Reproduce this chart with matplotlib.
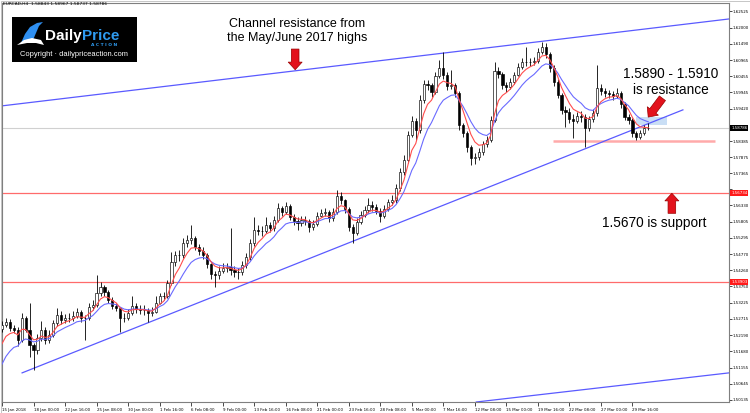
import matplotlib
matplotlib.use("Agg")
import matplotlib.pyplot as plt
import numpy as np
import pandas as pd
from matplotlib.patches import Rectangle, Polygon

# ---------------- data (EURCAD, bars) ----------------
first_open = 1.5240
closes = [1.5252, 1.5262, 1.5242, 1.5236, 1.5204, 1.5274, 1.5236, 1.5188, 1.5172, 1.5210,
          1.5236, 1.5204, 1.5220, 1.5258, 1.5284, 1.5268, 1.5274, 1.5274, 1.5281, 1.5294,
          1.5274, 1.5274, 1.5310, 1.5316, 1.5353, 1.5373, 1.5357, 1.5332, 1.5313, 1.5306,
          1.5274, 1.5274, 1.5290, 1.5313, 1.5303, 1.5300, 1.5300, 1.5290, 1.5294, 1.5322,
          1.5345, 1.5345, 1.5385, 1.5453, 1.5475, 1.5475, 1.5513, 1.5523, 1.5529, 1.5501,
          1.5488, 1.5475, 1.5446, 1.5414, 1.5411, 1.5424, 1.5433, 1.5437, 1.5427, 1.5421,
          1.5421, 1.5443, 1.5469, 1.5513, 1.5555, 1.5552, 1.5552, 1.5571, 1.5561, 1.5587,
          1.5625, 1.5613, 1.5632, 1.5597, 1.5584, 1.5577, 1.5587, 1.5584, 1.5565, 1.5574,
          1.5600, 1.5609, 1.5613, 1.5593, 1.5613, 1.5664, 1.5651, 1.5622, 1.5565, 1.5546,
          1.5581, 1.5603, 1.5619, 1.5635, 1.5629, 1.5616, 1.5600, 1.5622, 1.5645, 1.5651,
          1.5689, 1.5740, 1.5778, 1.5858, 1.5903, 1.5874, 1.5970, 1.6021, 1.6017, 1.5995,
          1.6046, 1.6072, 1.6049, 1.6014, 1.6017, 1.5992, 1.5890, 1.5864, 1.5820, 1.5785,
          1.5788, 1.5804, 1.5829, 1.5842, 1.5906, 1.6062, 1.6053, 1.6017, 1.6011, 1.6027,
          1.6049, 1.6075, 1.6091, 1.6091, 1.6091, 1.6094, 1.6123, 1.6139, 1.6116, 1.6072,
          1.6027, 1.5986, 1.5938, 1.5931, 1.5909, 1.5903, 1.5919, 1.5915, 1.5880, 1.5909,
          1.5928, 1.6008, 1.5998, 1.5992, 1.5989, 1.5982, 1.5992, 1.5957, 1.5915, 1.5906,
          1.5864, 1.5852, 1.5864, 1.5880, 1.5879]
highs = [1.5265, 1.5275, 1.5270, 1.5252, 1.5245, 1.5290, 1.5282, 1.5322, 1.5195, 1.5222,
         1.5265, 1.5245, 1.5235, 1.5268, 1.5306, 1.5295, 1.5288, 1.5290, 1.5295, 1.5306,
         1.5300, 1.5285, 1.5322, 1.5330, 1.5411, 1.5390, 1.5380, 1.5362, 1.5340, 1.5322,
         1.5310, 1.5290, 1.5302, 1.5345, 1.5322, 1.5315, 1.5316, 1.5306, 1.5308, 1.5345,
         1.5355, 1.5358, 1.5395, 1.5485, 1.5488, 1.5490, 1.5530, 1.5540, 1.5571, 1.5535,
         1.5510, 1.5500, 1.5480, 1.5450, 1.5425, 1.5440, 1.5450, 1.5450, 1.5561, 1.5440,
         1.5435, 1.5455, 1.5480, 1.5525, 1.5597, 1.5570, 1.5568, 1.5597, 1.5580, 1.5600,
         1.5641, 1.5632, 1.5644, 1.5638, 1.5605, 1.5595, 1.5600, 1.5598, 1.5590, 1.5588,
         1.5612, 1.5622, 1.5625, 1.5618, 1.5625, 1.5683, 1.5675, 1.5655, 1.5628, 1.5575,
         1.5592, 1.5615, 1.5630, 1.5657, 1.5648, 1.5638, 1.5625, 1.5635, 1.5655, 1.5665,
         1.5700, 1.5752, 1.5795, 1.5870, 1.5920, 1.5912, 1.5985, 1.6033, 1.6033, 1.6025,
         1.6060, 1.6097, 1.6123, 1.6060, 1.6065, 1.6025, 1.5998, 1.5895, 1.5870, 1.5825,
         1.5800, 1.5815, 1.5840, 1.5855, 1.5920, 1.6091, 1.6075, 1.6060, 1.6028, 1.6040,
         1.6060, 1.6088, 1.6102, 1.6139, 1.6105, 1.6108, 1.6135, 1.6155, 1.6150, 1.6122,
         1.6080, 1.6035, 1.5992, 1.5950, 1.5945, 1.5925, 1.5930, 1.5935, 1.5925, 1.5920,
         1.5940, 1.6081, 1.6020, 1.6008, 1.6002, 1.5998, 1.6008, 1.5998, 1.5962, 1.5925,
         1.5912, 1.5870, 1.5875, 1.5890, 1.5897]
lows = [1.5230, 1.5245, 1.5232, 1.5225, 1.5185, 1.5198, 1.5228, 1.5150, 1.5108, 1.5160,
        1.5200, 1.5190, 1.5195, 1.5212, 1.5250, 1.5255, 1.5258, 1.5262, 1.5265, 1.5275,
        1.5262, 1.5204, 1.5268, 1.5300, 1.5310, 1.5345, 1.5345, 1.5322, 1.5303, 1.5295,
        1.5230, 1.5262, 1.5268, 1.5285, 1.5290, 1.5288, 1.5285, 1.5262, 1.5280, 1.5290,
        1.5318, 1.5330, 1.5338, 1.5380, 1.5440, 1.5455, 1.5465, 1.5500, 1.5510, 1.5490,
        1.5475, 1.5462, 1.5435, 1.5400, 1.5373, 1.5400, 1.5418, 1.5420, 1.5410, 1.5405,
        1.5400, 1.5412, 1.5435, 1.5460, 1.5505, 1.5538, 1.5535, 1.5545, 1.5548, 1.5552,
        1.5580, 1.5600, 1.5605, 1.5588, 1.5570, 1.5555, 1.5568, 1.5572, 1.5549, 1.5556,
        1.5568, 1.5595, 1.5598, 1.5580, 1.5585, 1.5605, 1.5638, 1.5610, 1.5550, 1.5513,
        1.5538, 1.5575, 1.5595, 1.5610, 1.5615, 1.5605, 1.5581, 1.5592, 1.5615, 1.5635,
        1.5640, 1.5680, 1.5730, 1.5770, 1.5850, 1.5842, 1.5865, 1.5960, 1.6000, 1.5980,
        1.5990, 1.6040, 1.6035, 1.6000, 1.6005, 1.5980, 1.5875, 1.5850, 1.5805, 1.5762,
        1.5765, 1.5778, 1.5795, 1.5818, 1.5835, 1.5900, 1.6040, 1.6005, 1.5995, 1.6005,
        1.6020, 1.6045, 1.6068, 1.6078, 1.6078, 1.6080, 1.6088, 1.6115, 1.6105, 1.6060,
        1.6015, 1.5975, 1.5925, 1.5883, 1.5895, 1.5848, 1.5895, 1.5900, 1.5820, 1.5870,
        1.5900, 1.5920, 1.5985, 1.5978, 1.5975, 1.5970, 1.5975, 1.5945, 1.5905, 1.5892,
        1.5852, 1.5842, 1.5845, 1.5858, 1.5874]

ema_fast_seed = 1.5162
ema_slow_seed = 1.5099
ema_fast_span = 5
ema_slow_span = 10

x_labels = ["15 Jan 2018", "18 Jan 00:00", "22 Jan 16:00", "25 Jan 08:00", "30 Jan 00:00",
            "1 Feb 16:00", "6 Feb 08:00", "9 Feb 00:00", "13 Feb 16:00", "16 Feb 08:00",
            "21 Feb 00:00", "23 Feb 16:00", "28 Feb 08:00", "5 Mar 00:00", "7 Mar 16:00",
            "12 Mar 08:00", "15 Mar 00:00", "19 Mar 16:00", "22 Mar 08:00", "27 Mar 00:00",
            "29 Mar 16:00"]
bars_per_label = 8
y_ticks = [1.62525, 1.62000, 1.61490, 1.60965, 1.60455, 1.59945, 1.59420, 1.58910, 1.58385,
           1.57875, 1.57365, 1.56840, 1.56330, 1.55805, 1.55295, 1.54770, 1.54260, 1.53750,
           1.53225, 1.52715, 1.52190, 1.51680, 1.51155, 1.50645, 1.50135]
hidden_ticks = [1.58910, 1.56840]   # covered by the price boxes in the original

support_levels = [1.56734, 1.53903]
last_price = 1.58786
short_level = 1.5839
short_level_span = (139.8, 181.0)
resistance_zone = (1.5890, 1.5915)
resistance_zone_span = (161.0, 168.8)
upper_channel = [(-0.5, 1.5950), (184.5, 1.6228)]
lower_channel = [(120.3, 1.5006), (184.5, 1.5099)]
rising_trend = [(5.1, 1.5099), (172.8, 1.5938)]

header = "EURCAD,H4  1.58843 1.58967 1.58737 1.58786"

# ---------------- figure ----------------
W, H = 750, 413
fig = plt.figure(figsize=(W / 100, H / 100), dpi=100)
fig.patch.set_facecolor("white")
ax = fig.add_axes([2 / W, 11 / H, 727 / W, 399 / H])
ax.set_xlim(0, 184.5)
ax.set_ylim(1.50061, 1.62789)

n = len(closes)
idx = np.arange(n)
opens = np.array([first_open] + closes[:-1])
c = np.array(closes)
hi = np.array(highs)
lo = np.array(lows)

# wicks
ax.vlines(idx, lo, hi, color="black", lw=0.6, zorder=3)
up = c >= opens
bw = 0.55
ax.bar(idx[up], (c - opens)[up], bottom=opens[up], width=bw, color="white",
       edgecolor="black", linewidth=0.45, zorder=4)
ax.bar(idx[~up], (opens - c)[~up], bottom=c[~up], width=bw, color="black",
       edgecolor="black", linewidth=0.45, zorder=4)

# moving averages
fast = pd.Series([ema_fast_seed] + closes).ewm(span=ema_fast_span, adjust=False).mean().values[1:]
slow = pd.Series([ema_slow_seed] + closes).ewm(span=ema_slow_span, adjust=False).mean().values[1:]
ax.plot(idx, slow, color="#6a6aff", lw=0.8, zorder=5)
ax.plot(idx, fast, color="#ff4d4d", lw=0.8, zorder=5)

# horizontal levels
for lvl in support_levels:
    ax.axhline(lvl, color="#ff6b6b", lw=0.9, zorder=2)
ax.axhline(last_price, color="#d0d0d0", lw=0.8, zorder=1)
ax.hlines(short_level, *short_level_span, color="#ffaaaa", lw=1.8, zorder=2)
ax.add_patch(Rectangle((resistance_zone_span[0], resistance_zone[0]),
                       resistance_zone_span[1] - resistance_zone_span[0],
                       resistance_zone[1] - resistance_zone[0],
                       facecolor="#c9def5", edgecolor="none", zorder=1.5))

# trend lines
ax.axline(upper_channel[0], upper_channel[1], color="#5a5aff", lw=0.9, zorder=2)
ax.axline(lower_channel[0], lower_channel[1], color="#5a5aff", lw=0.9, zorder=2)
ax.plot([rising_trend[0][0], rising_trend[1][0]], [rising_trend[0][1], rising_trend[1][1]],
        color="#5a5aff", lw=0.9, zorder=2)

# annotations
txt_font = ["Liberation Sans", "DejaVu Sans"]
ax.text(74.9, 1.6190, "Channel resistance from\nthe May/June 2017 highs", ha="center",
        va="center", fontsize=9, family=txt_font, linespacing=1.15, zorder=8)
ax.text(169.8, 1.6027, "1.5890 - 1.5910\nis resistance", ha="center", va="center",
        fontsize=9.8, family=txt_font, linespacing=1.15, zorder=8)
ax.text(165.5, 1.5577, "1.5670 is support", ha="center", va="center",
        fontsize=9.8, family=txt_font, zorder=8)

arrow_style = dict(arrowstyle="simple,head_length=0.55,head_width=1.0,tail_width=0.55",
                   fc="#e3121c", ec="#9a0000", lw=0.5, shrinkA=0, shrinkB=0)
ax.annotate("", xy=(74.4, 1.6066), xytext=(74.4, 1.6132), arrowprops=arrow_style, zorder=9)
ax.annotate("", xy=(164.0, 1.5915), xytext=(167.6, 1.5975), arrowprops=arrow_style, zorder=9)
ax.annotate("", xy=(170.0, 1.5672), xytext=(170.0, 1.5608), arrowprops=arrow_style, zorder=9)

# axes styling
for s in ax.spines.values():
    s.set_color("#7f7f7f")
    s.set_linewidth(0.8)
ax.yaxis.tick_right()
ax.set_yticks(y_ticks)
ax.set_yticklabels(["" if v in hidden_ticks else f"{v:.5f}" for v in y_ticks])
ax.set_xticks(np.arange(len(x_labels)) * bars_per_label)
ax.set_xticklabels(x_labels, ha="left")
ax.tick_params(axis="y", labelsize=2.9, length=2, width=0.5, pad=0.8, colors="black")
ax.tick_params(axis="x", labelsize=2.9, length=3, width=0.5, pad=1.0, colors="black")

# price boxes on the right scale
ytr = ax.get_yaxis_transform()
for lvl, col in [(support_levels[0], "#ff1a1a"), (support_levels[1], "#ff1a1a"),
                 (last_price, "black")]:
    ax.text(1.003, lvl, f"{lvl:.5f}", transform=ytr, ha="left", va="center",
            fontsize=2.9, color="white", clip_on=False, zorder=10,
            bbox=dict(boxstyle="square,pad=0.25", fc=col, ec="none"))

# header
fig.text(3 / W, 1 - 4 / H, header, ha="left", va="center", fontsize=3.2, color="black")


# logo
def fp(x, y):
    return (x / W, 1 - y / H)


fig.add_artist(Rectangle(fp(12, 62), 125 / W, 45 / H, transform=fig.transFigure,
                         facecolor="black", edgecolor="none", zorder=20))
blue_pts = [(21, 43), (25, 34), (30, 27), (37, 23), (43, 22), (39, 26), (36, 33), (33, 40)]
fig.add_artist(Polygon([fp(*p) for p in blue_pts], closed=True, transform=fig.transFigure,
                       facecolor="#2f8ff0", edgecolor="none", zorder=21))
white_pts = [(17, 45), (24, 40), (32, 38), (41, 40), (44, 45), (36, 43), (27, 43)]
fig.add_artist(Polygon([fp(*p) for p in white_pts], closed=True, transform=fig.transFigure,
                       facecolor="white", edgecolor="none", zorder=21))
fig.text(*fp(82, 36), "Daily", ha="right", va="center", color="white", fontsize=11,
         fontweight="bold", family="Liberation Sans", zorder=22)
fig.text(*fp(82, 36), "Price", ha="left", va="center", color="#2f9bf0", fontsize=11,
         fontweight="bold", family="Liberation Sans", zorder=22)
fig.text(*fp(104, 44.5), "A C T I O N", ha="center", va="center", color="#2f9bf0",
         fontsize=3.2, fontweight="bold", zorder=22)
fig.text(*fp(74, 55), "Copyright · dailypriceaction.com", ha="center", va="center",
         color="white", fontsize=5.4, family="Liberation Sans", zorder=22)

# thin outer frame
fig.add_artist(Rectangle((0.5 / W, 0.5 / H), (W - 1) / W, (H - 1) / H, transform=fig.transFigure,
                         facecolor="none", edgecolor="#bdbdbd", lw=0.6, zorder=0))

fig.savefig("out.png", dpi=100)
